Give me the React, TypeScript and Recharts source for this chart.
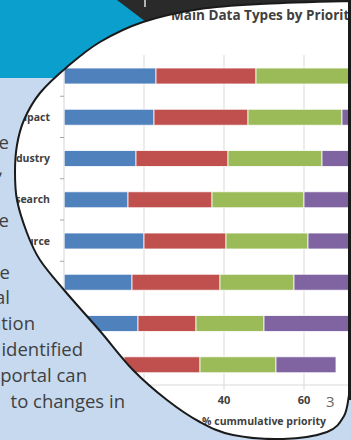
import { BarChart, Bar, XAxis, YAxis, CartesianGrid } from 'recharts';

const categories = [
  'Land Use',
  'Environmental Impact',
  'Industry',
  'Research',
  'Resource',
  'Infrastructure',
  'Population',
  'Climate',
];
const priority1 = [23, 22.5, 18, 16, 20, 17, 18.5, 15];
const priority2 = [25, 23.5, 23, 21, 20.5, 22, 14.5, 19];
const priority3 = [25, 23.5, 23.5, 23, 20.5, 18.5, 17, 19];
const priority4 = [12, 14, 16, 20, 18, 20, 26, 15];
const xTicks = [0, 20, 40, 60, 80, 100];

const SERIES = [
  { key: 'p1', name: 'Priority 1', color: '#4f81bd', values: priority1 },
  { key: 'p2', name: 'Priority 2', color: '#c0504d', values: priority2 },
  { key: 'p3', name: 'Priority 3', color: '#9bbb59', values: priority3 },
  { key: 'p4', name: 'Priority 4', color: '#8064a2', values: priority4 },
];

const rows = categories.map((name, i) => {
  const r: Record<string, string | number> = { name };
  SERIES.forEach((s) => (r[s.key] = s.values[i]));
  return r;
});

// slide text on the left, mostly hidden behind the oval
const sideText = [
  { text: 'priorities change', y: 142, right: 9 },
  { text: 'data,', y: 168, right: 3 },
  { text: 'the', y: 220, right: 9 },
  { text: 'the', y: 272, right: 10 },
  { text: 'national', y: 297, right: 10 },
  { text: 'information', y: 323, right: 35 },
  { text: 'priorities identified', y: 349, right: 83 },
  { text: 'through the portal can', y: 375, right: 87 },
  { text: 'to changes in', y: 401, right: 125 },
];

const PLOT_TOP = 55;
const PLOT_BOTTOM = 385;
const BAND = (PLOT_BOTTOM - PLOT_TOP) / categories.length;
const FONT = '"Open Sans", Lato, sans-serif';

// outline of the white oval
const OVAL = [
  [349, 395], [344, 416], [327, 432], [283, 439], [233, 435], [200, 422],
  [167, 400], [133, 370], [100, 331], [64, 290], [40, 260], [27, 233],
  [17, 200], [15, 172], [17, 145], [24, 120], [40, 93], [67, 67],
  [100, 42], [143, 22], [200, 9], [260, 4], [349, 1],
];

function smoothPath(pts: number[][]) {
  let d = `M ${pts[0][0]} ${pts[0][1]}`;
  for (let i = 0; i < pts.length - 1; i++) {
    const p0 = pts[Math.max(i - 1, 0)];
    const p1 = pts[i];
    const p2 = pts[i + 1];
    const p3 = pts[Math.min(i + 2, pts.length - 1)];
    const c1x = p1[0] + (p2[0] - p0[0]) / 6;
    const c1y = p1[1] + (p2[1] - p0[1]) / 6;
    const c2x = p2[0] - (p3[0] - p1[0]) / 6;
    const c2y = p2[1] - (p3[1] - p1[1]) / 6;
    d += ` C ${c1x.toFixed(1)} ${c1y.toFixed(1)}, ${c2x.toFixed(1)} ${c2y.toFixed(1)}, ${p2[0]} ${p2[1]}`;
  }
  return d + ' Z';
}

const ovalPath = smoothPath(OVAL);

const CategoryTick = (props: any) => {
  const { x, y, payload, index } = props;
  const half = BAND / 2;
  return (
    <g>
      <line x1={x + 10} x2={x + 14} y1={y - half} y2={y - half} stroke="#a6a6a6" />
      {index === categories.length - 1 && (
        <line x1={x + 10} x2={x + 14} y1={y + half} y2={y + half} stroke="#a6a6a6" />
      )}
      <text
        x={x}
        y={y}
        textAnchor="end"
        dominantBaseline="central"
        fontSize={10.5}
        fontWeight={700}
        fontFamily={FONT}
        fill="#404040"
      >
        {payload.value}
      </text>
    </g>
  );
};

export default function App() {
  return (
    <div
      style={{
        position: 'absolute',
        left: 0,
        top: 0,
        width: 351,
        height: 440,
        overflow: 'hidden',
        background: '#c6d9ef',
        fontFamily: FONT,
      }}
    >
      <svg width={351} height={440} style={{ position: 'absolute', left: 0, top: 0 }}>
        <rect x={0} y={0} width={160} height={78} fill="#0a9fcc" />
        <polygon points="117,0 150,25 351,25 351,0" fill="#2a2a2a" />
        <line x1={145} x2={145} y1={0} y2={7} stroke="#e0e0e0" strokeWidth={1.5} />
        <rect x={348} y={0} width={4} height={400} fill="#1a1a1a" />
      </svg>

      {sideText.map((t) => (
        <div
          key={t.y}
          style={{
            position: 'absolute',
            right: 351 - t.right,
            top: t.y - 13,
            whiteSpace: 'nowrap',
            fontSize: 18.5,
            lineHeight: '26px',
            color: '#3f3f3f',
          }}
        >
          {t.text}
        </div>
      ))}

      <svg width={351} height={440} style={{ position: 'absolute', left: 0, top: 0 }}>
        <path d={ovalPath} fill="#ffffff" />
      </svg>

      <div
        style={{
          position: 'absolute',
          left: 0,
          top: 0,
          width: 351,
          height: 440,
          clipPath: `path('${ovalPath}')`,
        }}
      >
        <div
          style={{
            position: 'absolute',
            left: 64,
            width: 400,
            top: 6,
            textAlign: 'center',
            fontSize: 13.5,
            fontWeight: 700,
            color: '#404040',
            whiteSpace: 'nowrap',
          }}
        >
          Main Data Types by Priority
        </div>
        <div style={{ position: 'absolute', left: 0, top: 0 }}>
          <BarChart
            width={520}
            height={440}
            data={rows}
            layout="vertical"
            margin={{ top: PLOT_TOP, right: 56, bottom: 10, left: 0 }}
            barSize={16}
          >
            <CartesianGrid horizontal={false} stroke="#d9d9d9" />
            <XAxis
              type="number"
              domain={[0, 100]}
              ticks={xTicks}
              height={45}
              axisLine={{ stroke: '#d9d9d9' }}
              tickLine={{ stroke: '#d9d9d9' }}
              tickSize={5}
              tickMargin={6}
              tick={{ fontSize: 11, fontWeight: 700, fill: '#404040', fontFamily: FONT }}
              label={{
                value: '% cummulative priority',
                position: 'insideBottom',
                offset: 5,
                fontSize: 10.5,
                fontWeight: 700,
                fill: '#404040',
                fontFamily: FONT,
              }}
            />
            <YAxis
              type="category"
              dataKey="name"
              width={64}
              tickSize={4}
              tickMargin={10}
              axisLine={{ stroke: '#e6e6e6' }}
              tickLine={false}
              tick={<CategoryTick />}
              interval={0}
            />
            {SERIES.map((s) => (
              <Bar
                key={s.key}
                dataKey={s.key}
                name={s.name}
                stackId="a"
                fill={s.color}
                stroke="#ffffff"
                strokeWidth={0.8}
                isAnimationActive={false}
              />
            ))}
          </BarChart>
        </div>
        <div
          style={{
            position: 'absolute',
            left: 326,
            top: 391,
            fontSize: 15,
            color: '#666666',
          }}
        >
          3
        </div>
      </div>

      <svg
        width={351}
        height={440}
        style={{ position: 'absolute', left: 0, top: 0, pointerEvents: 'none' }}
      >
        <path d={ovalPath} fill="none" stroke="#1a1a1a" strokeWidth={2} />
      </svg>
    </div>
  );
}
